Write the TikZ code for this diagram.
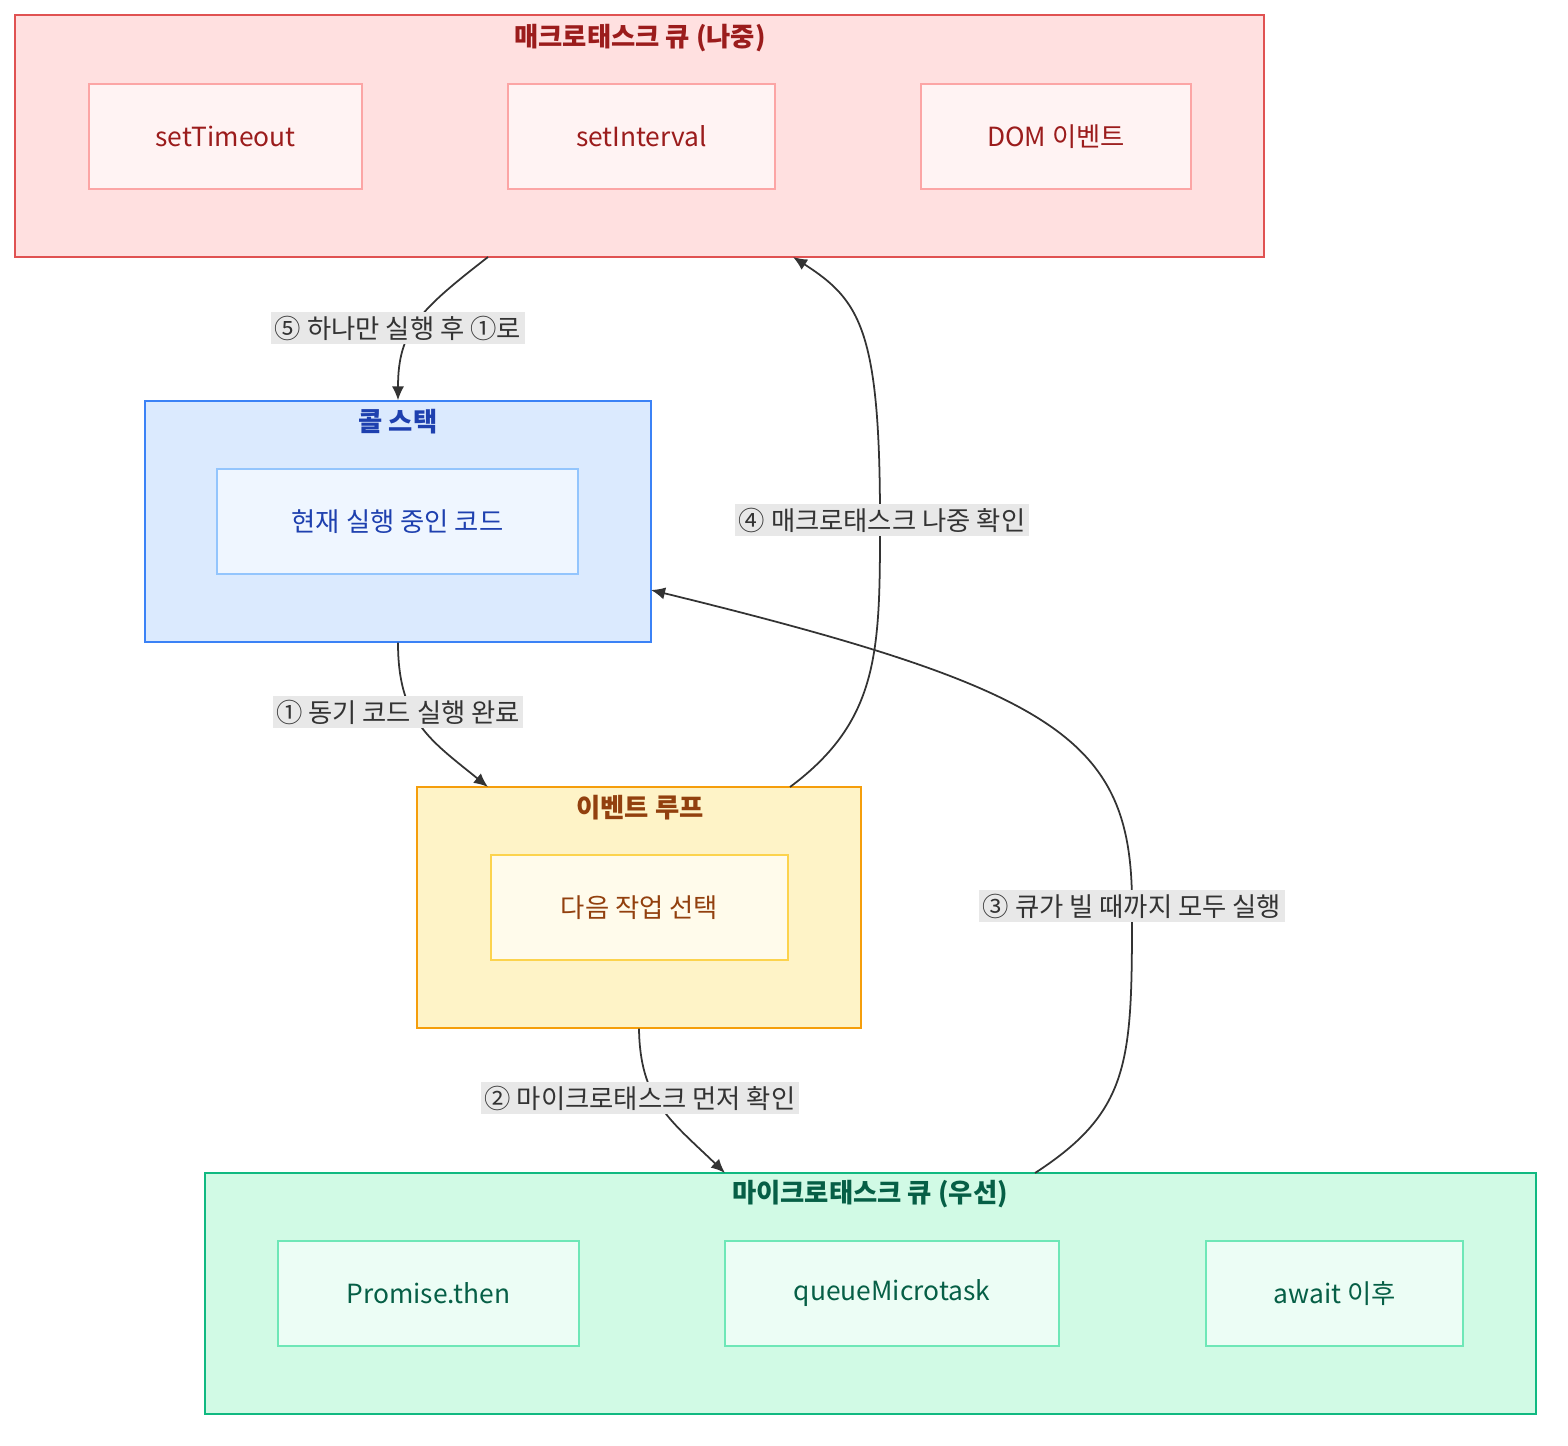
\documentclass[tikz,border=0pt]{standalone}
\usepackage{fontspec}
\setmainfont{Noto Sans CJK KR}
\usetikzlibrary{arrows.meta, positioning}
\definecolor{macfill}{HTML}{FFE0E0}
\definecolor{macline}{HTML}{E05252}
\definecolor{macin}{HTML}{FFF3F3}
\definecolor{macinline}{HTML}{FCA5A5}
\definecolor{mactext}{HTML}{9B1C1C}
\definecolor{stkfill}{HTML}{DBEAFE}
\definecolor{stkline}{HTML}{3B82F6}
\definecolor{stkin}{HTML}{EFF6FF}
\definecolor{stkinline}{HTML}{93C5FD}
\definecolor{stktext}{HTML}{1E40AF}
\definecolor{loopfill}{HTML}{FEF3C7}
\definecolor{loopline}{HTML}{F59E0B}
\definecolor{loopin}{HTML}{FFFBEB}
\definecolor{loopinline}{HTML}{FCD34D}
\definecolor{looptext}{HTML}{92400E}
\definecolor{micfill}{HTML}{D1FAE5}
\definecolor{micline}{HTML}{10B981}
\definecolor{micin}{HTML}{ECFDF5}
\definecolor{micinline}{HTML}{6EE7B7}
\definecolor{mictext}{HTML}{065F46}
\definecolor{edgecol}{HTML}{333333}
\definecolor{lblbg}{HTML}{E8E8E8}

\begin{document}
\begin{tikzpicture}[
    x=0.02cm, y=-0.02cm,
    group/.style={rectangle, draw, line width=0.8pt, inner sep=0pt},
    item/.style={rectangle, draw, line width=0.8pt, minimum height=2.1cm, font=\fontsize{15}{18}\selectfont},
    title/.style={font=\fontsize{15}{18}\selectfont\bfseries},
    arrow/.style={-{Latex[length=8pt, width=7pt]}, line width=1pt, edgecol},
    lbl/.style={fill=lblbg, inner sep=2pt, text=edgecol, font=\fontsize{15}{18}\selectfont}
]
\useasboundingbox (0,0) rectangle (1568,1446);

% macrotask queue
\node[group, fill=macfill, draw=macline, minimum width=24.98cm, minimum height=4.84cm] (mac) at (639.5,136) {};
\node[title, text=mactext] (mactitle) at (640,38) {매크로태스크 큐 (나중)};
\node[item, fill=macin, draw=macinline, text=mactext, minimum width=5.46cm] (st) at (225.5,136.5) {setTimeout};
\node[item, fill=macin, draw=macinline, text=mactext, minimum width=5.34cm] (si) at (641.5,136.5) {setInterval};
\node[item, fill=macin, draw=macinline, text=mactext, minimum width=5.4cm] (dom) at (1056,136.5) {DOM 이벤트};

% call stack
\node[group, fill=stkfill, draw=stkline, minimum width=10.12cm, minimum height=4.82cm] (stk) at (398,521.5) {};
\node[title, text=stktext] (stktitle) at (398,422) {콜 스택};
\node[item, fill=stkin, draw=stkinline, text=stktext, minimum width=7.22cm] (cur) at (397.5,521.5) {현재 실행 중인 코드};

% event loop
\node[group, fill=loopfill, draw=loopline, minimum width=8.88cm, minimum height=4.82cm] (loop) at (639,907.5) {};
\node[title, text=looptext] (looptitle) at (640,808) {이벤트 루프};
\node[item, fill=loopin, draw=loopinline, text=looptext, minimum width=5.94cm] (next) at (639.5,907.5) {다음 작업 선택};

% microtask queue
\node[group, fill=micfill, draw=micline, minimum width=26.62cm, minimum height=4.82cm] (mic) at (870.5,1293.5) {};
\node[title, text=mictext] (mictitle) at (870,1194) {마이크로태스크 큐 (우선)};
\node[item, fill=micin, draw=micinline, text=mictext, minimum width=6.02cm] (prom) at (428.5,1293.5) {Promise.then};
\node[item, fill=micin, draw=micinline, text=mictext, minimum width=6.68cm] (qm) at (892,1293.5) {queueMicrotask};
\node[item, fill=micin, draw=micinline, text=mictext, minimum width=5.14cm] (aw) at (1334.5,1293.5) {await 이후};

% connector ends
\coordinate (macout) at (488,257);
\coordinate (macin) at (793,257);
\coordinate (stkin) at (651,590);
\coordinate (loopin) at (488,787);
\coordinate (loopout) at (790,787);
\coordinate (micin) at (725,1173);
\coordinate (micout) at (1035,1173);

\draw[arrow] (macout) .. controls (420,310) and (398,330) .. (stk.north);
\draw[arrow] (stk.south) .. controls (398,720) and (430,740) .. (loopin);
\draw[arrow] (loop.south) .. controls (640,1100) and (670,1120) .. (micin);
\draw[arrow] (micout) .. controls (1132,1110) and (1132,1060) .. (1132,905)
    .. controls (1132,740) and (1060,690) .. (stkin);
\draw[arrow] (loopout) .. controls (880,720) and (880,650) .. (880,520)
    .. controls (880,330) and (860,300) .. (macin);

\node[lbl] (l5) at (398,328) {⑤ 하나만 실행 후 ①로};
\node[lbl] (l1) at (398,712) {① 동기 코드 실행 완료};
\node[lbl] (l2) at (640,1098) {② 마이크로태스크 먼저 확인};
\node[lbl] (l3) at (1132,906) {③ 큐가 빌 때까지 모두 실행};
\node[lbl] (l4) at (882,520) {④ 매크로태스크 나중 확인};
\end{tikzpicture}
\end{document}
